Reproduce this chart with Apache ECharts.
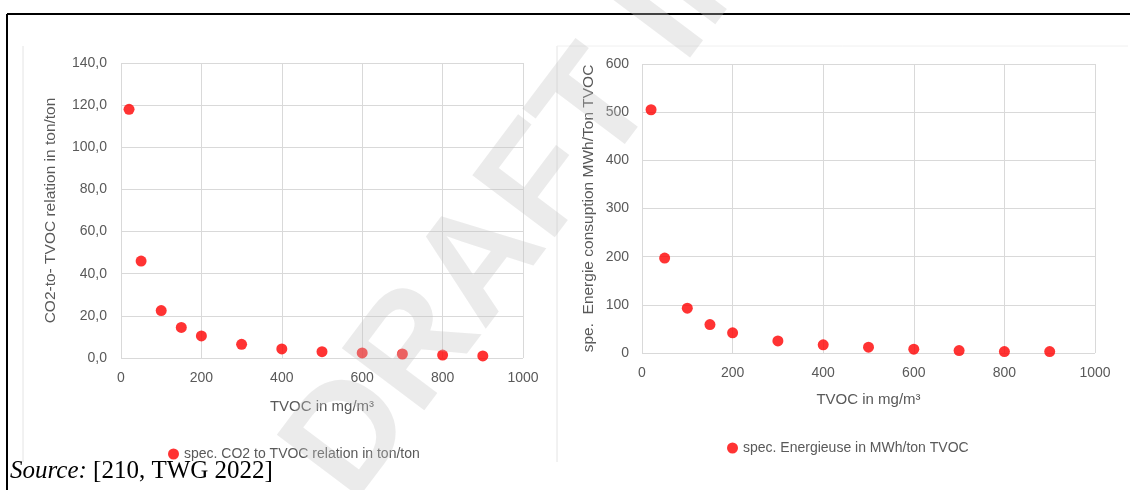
<!DOCTYPE html>
<html>
<head>
<meta charset="utf-8">
<script src="https://cdn.jsdelivr.net/npm/echarts@6/dist/echarts.min.js"></script>
<style>
  html, body { margin: 0; padding: 0; background: #fff; }
  #chart { width: 1130px; height: 490px; }
</style>
</head>
<body>
<div id="chart"></div>
<script>
// TVOC concentrations (mg/m3)
const tvoc = [20, 50, 100, 150, 200, 300, 400, 500, 600, 700, 800, 900];
// left: CO2 to TVOC relation (ton/ton)
const co2Ratio = [118, 46, 22.5, 14.5, 10.5, 6.5, 4.3, 3.0, 2.4, 1.9, 1.4, 1.0];
// right: specific energy use (MWh/ton TVOC)
const energyUse = [505, 197, 93, 59, 42, 25, 17, 12, 8, 5, 3, 3];

const leftName = 'spec. CO2 to TVOC relation in ton/ton';
const rightName = 'spec. Energieuse in MWh/ton TVOC';

const FONT = 'Liberation Sans';
const TXT = '#595959';
const GRID = '#d9d9d9';

const chart = echarts.init(document.getElementById('chart'));

function xAxisOpt(gridIndex, gap) {
    return {
        type: 'value', gridIndex: gridIndex, min: 0, max: 1000, interval: 200,
        name: 'TVOC in mg/m³', nameLocation: 'middle', nameGap: gap,
        nameTextStyle: {color: TXT, fontFamily: FONT, fontSize: 15},
        axisLine: {show: false}, axisTick: {show: false},
        axisLabel: {color: TXT, fontFamily: FONT, fontSize: 14, margin: 13, formatter: v => String(v)},
        splitLine: {lineStyle: {color: GRID, width: 1}}
    };
}

chart.setOption({
    animation: false,
    backgroundColor: '#ffffff',
    grid: [
        {left: 121, top: 63, width: 402, height: 295},
        {left: 642, top: 64, width: 453, height: 289}
    ],
    xAxis: [xAxisOpt(0, 41), xAxisOpt(1, 39)],
    yAxis: [
        {
            type: 'value', gridIndex: 0, min: 0, max: 140, interval: 20,
            name: 'CO2-to- TVOC relation in ton/ton', nameLocation: 'middle', nameGap: 62,
            nameTextStyle: {color: TXT, fontFamily: FONT, fontSize: 15.5},
            axisLine: {show: false}, axisTick: {show: false},
            axisLabel: {color: TXT, fontFamily: FONT, fontSize: 14, margin: 14,
                formatter: v => v.toFixed(1).replace('.', ',')},
            splitLine: {lineStyle: {color: GRID, width: 1}}
        },
        {
            type: 'value', gridIndex: 1, min: 0, max: 600, interval: 100,
            name: 'spe.  Energie consuption MWh/Ton TVOC', nameLocation: 'middle', nameGap: 45,
            nameTextStyle: {color: TXT, fontFamily: FONT, fontSize: 15.5},
            axisLine: {show: false}, axisTick: {show: false},
            axisLabel: {color: TXT, fontFamily: FONT, fontSize: 14, margin: 13},
            splitLine: {lineStyle: {color: GRID, width: 1}}
        }
    ],
    legend: [
        {data: [leftName], left: 163, top: 442, icon: 'circle', itemWidth: 11, itemHeight: 11, itemGap: 4,
            textStyle: {color: TXT, fontFamily: FONT, fontSize: 14}},
        {data: [rightName], left: 722, top: 436, icon: 'circle', itemWidth: 11, itemHeight: 11, itemGap: 4,
            textStyle: {color: TXT, fontFamily: FONT, fontSize: 14}}
    ],
    series: [
        {
            name: leftName, type: 'scatter', xAxisIndex: 0, yAxisIndex: 0,
            symbolSize: 11, itemStyle: {color: '#ff0000'},
            data: tvoc.map((x, i) => [x, co2Ratio[i]])
        },
        {
            name: rightName, type: 'scatter', xAxisIndex: 1, yAxisIndex: 1,
            symbolSize: 11, itemStyle: {color: '#ff0000'},
            data: tvoc.map((x, i) => [x, energyUse[i]])
        }
    ],
    graphic: [
        // chart area frames
        {type: 'line', shape: {x1: 23, y1: 46, x2: 23, y2: 462}, style: {stroke: '#e4e4e4', lineWidth: 1}, silent: true},
        {type: 'line', shape: {x1: 557, y1: 46, x2: 557, y2: 462}, style: {stroke: '#e4e4e4', lineWidth: 1}, silent: true},
        {type: 'line', shape: {x1: 557, y1: 46, x2: 1128, y2: 46}, style: {stroke: '#f0f0f0', lineWidth: 1}, silent: true},
        // document box
        {type: 'line', shape: {x1: 7, y1: 14, x2: 1130, y2: 14}, style: {stroke: '#000', lineWidth: 2}, silent: true},
        {type: 'line', shape: {x1: 7, y1: 14, x2: 7, y2: 490}, style: {stroke: '#000', lineWidth: 2}, silent: true},
        // source line
        {
            type: 'text', left: 10, top: 459, silent: true,
            style: {
                text: '{i|Source:} [210, TWG 2022]',
                fill: '#000', font: '25px "Liberation Serif"',
                rich: {i: {fontStyle: 'italic', fontFamily: 'Liberation Serif', fontSize: 25, fill: '#000'}}
            }
        },
        // watermark
        {
            type: 'text', x: 380, y: 525, rotation: 53 * Math.PI / 180, z: 100, silent: true,
            style: {
                text: 'DRAFT IN PROGRESS', fill: 'rgba(195,195,195,0.33)',
                font: 'bold 150px "Liberation Sans"', textVerticalAlign: 'bottom'
            }
        }
    ]
});
</script>
</body>
</html>
